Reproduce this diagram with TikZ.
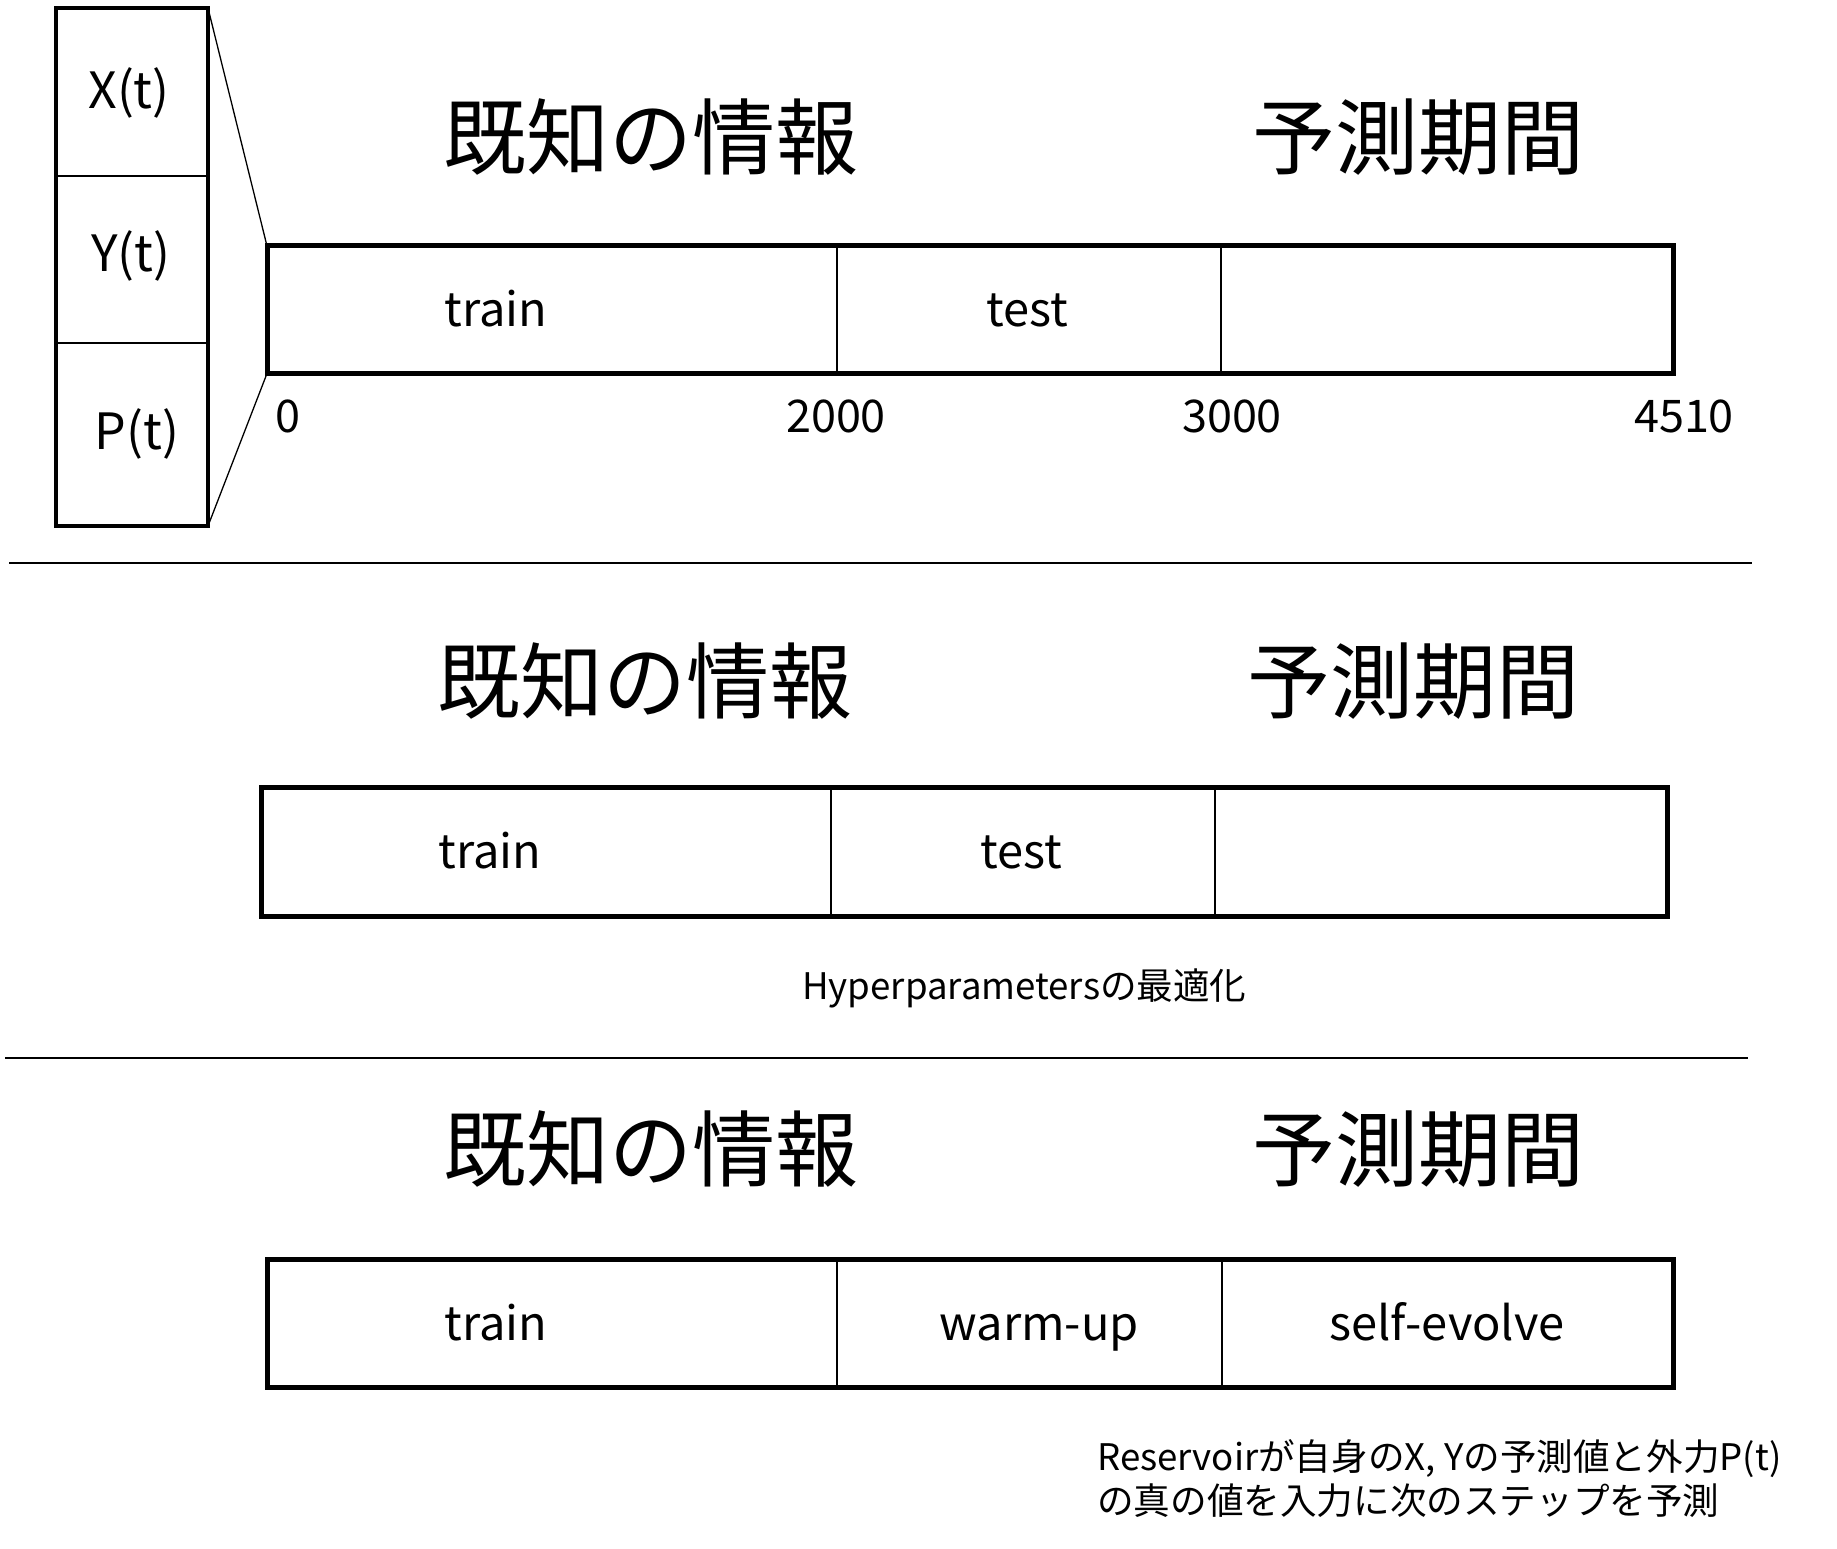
\documentclass[tikz,border=0pt]{standalone}
\usepackage{fontspec}
\setmainfont{Noto Sans CJK JP}
\begin{document}
\begin{tikzpicture}[x=1pt,y=-1pt,
  box/.style={draw, line width=4.5pt, inner sep=0pt, outer sep=0pt},
  seg/.style={draw, line width=1.3pt, inner sep=0pt, outer sep=0pt, anchor=north west},
  lbl/.style={font=\fontsize{47}{56}\selectfont, inner sep=0pt, anchor=base},
  var/.style={font=\fontsize{50}{60}\selectfont, inner sep=0pt, anchor=base},
  num/.style={font=\fontsize{45}{54}\selectfont, inner sep=0pt, anchor=base},
  ttl/.style={font=\fontsize{83}{100}\selectfont, inner sep=0pt},
  note/.style={font=\fontsize{36.6}{44}\selectfont, inner sep=0pt, anchor=base west},
  sepline/.style={line width=2pt},
  thinline/.style={line width=1.3pt},
  outline/.style={line width=5pt}]
\useasboundingbox (0,0) rectangle (1837,1549);

% left variable box
\node[box, minimum width=152pt, minimum height=518pt] (lbox) at (132,267) {};
\coordinate (d1) at (0,176);
\coordinate (d2) at (0,343);
\draw[thinline] (lbox.west |- d1) -- (lbox.east |- d1);
\draw[thinline] (lbox.west |- d2) -- (lbox.east |- d2);
\node[var] (vx) at (129,109) {X(t)};
\node[var] (vy) at (131,272) {Y(t)};
\node[var] (vp) at (137,449) {P(t)};

% section 1
\node[ttl] (k1) at (651,137) {既知の情報};
\node[ttl] (p1) at (1418,137) {予測期間};
\node[seg, minimum width=570pt, minimum height=127.5pt] (b1a) at (267,246) {};
\node[seg, minimum width=384pt, minimum height=127.5pt] (b1b) at (837,246) {};
\node[seg, minimum width=452.5pt, minimum height=127.5pt] (b1c) at (1221,246) {};
\draw[outline] (b1a.north west) rectangle (b1c.south east);
\node[lbl] (t1a) at (496,326) {train};
\node[lbl] (t1b) at (1027,326) {test};
\node[num] (n0) at (288,432) {0};
\node[num] (n1) at (836,432) {2000};
\node[num] (n2) at (1232,432) {3000};
\node[num] (n3) at (1684,432) {4510};
\draw[thinline] (lbox.north east) -- (b1a.north west);
\draw[thinline] (lbox.south east) -- (b1a.south west);

\coordinate (s1a) at (9,563);
\coordinate (s1b) at (1752,563);
\draw[sepline] (s1a) -- (s1b);

% section 2
\node[ttl] (k2) at (645,681) {既知の情報};
\node[ttl] (p2) at (1413,681) {予測期間};
\node[seg, minimum width=570pt, minimum height=129pt] (b2a) at (261,787) {};
\node[seg, minimum width=384pt, minimum height=129pt] (b2b) at (831,787) {};
\node[seg, minimum width=452pt, minimum height=129pt] (b2c) at (1215,787) {};
\draw[outline] (b2a.north west) rectangle (b2c.south east);
\node[lbl] (t2a) at (490,868) {train};
\node[lbl] (t2b) at (1021,868) {test};
\node[note] (h2) at (802,999) {Hyperparametersの最適化};

\coordinate (s2a) at (5,1058);
\coordinate (s2b) at (1748,1058);
\draw[sepline] (s2a) -- (s2b);

% section 3
\node[ttl] (k3) at (651,1149) {既知の情報};
\node[ttl] (p3) at (1418,1149) {予測期間};
\node[seg, minimum width=570pt, minimum height=128pt] (b3a) at (267,1259.5) {};
\node[seg, minimum width=385pt, minimum height=128pt] (b3b) at (837,1259.5) {};
\node[seg, minimum width=451.5pt, minimum height=128pt] (b3c) at (1222,1259.5) {};
\draw[outline] (b3a.north west) rectangle (b3c.south east);
\node[lbl] (t3a) at (496,1340) {train};
\node[lbl] (t3b) at (1039,1340) {warm-up};
\node[lbl] (t3c) at (1447,1340) {self-evolve};
\node[note] (r3a) at (1097,1470) {Reservoirが自身のX, Yの予測値と外力P(t)};
\node[note] (r3b) at (1097,1514) {の真の値を入力に次のステップを予測};
\end{tikzpicture}
\end{document}
